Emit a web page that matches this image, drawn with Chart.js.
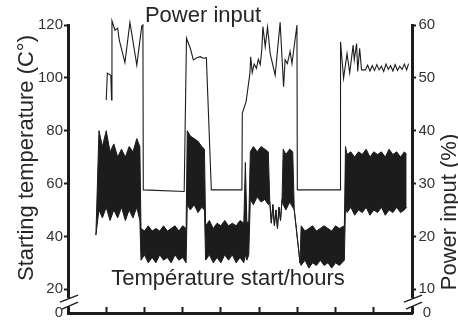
<!DOCTYPE html>
<html>
<head>
<meta charset="utf-8">
<script src="https://cdn.jsdelivr.net/npm/chart.js@4.4.1/dist/chart.umd.min.js"></script>
<style>
  body { margin: 0; background: #fff; }
  canvas { display: block; }
</style>
</head>
<body>
<canvas id="grafico" width="458" height="325"></canvas>
<script>
// Température start/hours (axe gauche) : enveloppe haute / basse du signal
const tempHours = [0.73, 0.81, 0.9, 1.0, 1.1, 1.2, 1.3, 1.4, 1.5, 1.6, 1.7, 1.8, 1.88,
  1.91, 2.0, 2.1, 2.2, 2.3, 2.4, 2.5, 2.6, 2.7, 2.8, 2.9, 3.0, 3.09,
  3.12, 3.2, 3.3, 3.4, 3.5, 3.57,
  3.6, 3.7, 3.8, 3.9, 4.0, 4.1, 4.2, 4.3, 4.4, 4.5, 4.6, 4.64, 4.68, 4.73,
  4.77, 4.85, 4.95, 5.05, 5.15, 5.24,
  5.28, 5.32, 5.36, 5.40, 5.44, 5.48, 5.52, 5.56, 5.60,
  5.63, 5.7, 5.8, 5.88,
  5.92, 6.07,
  6.1, 6.2, 6.3, 6.4, 6.5, 6.6, 6.7, 6.8, 6.9, 7.0, 7.1, 7.23,
  7.26, 7.3, 7.4, 7.5, 7.6, 7.7, 7.8, 7.9, 8.0, 8.1, 8.2, 8.3, 8.4, 8.5, 8.6, 8.7, 8.8, 8.86];
const tempUpper = [40.5, 80, 74, 80, 72, 75, 70, 73, 70, 74, 72, 77, 74,
  43, 42, 44, 42, 43, 42, 44, 42, 43, 44, 42, 44, 43,
  80, 78, 77, 76, 74, 73,
  44, 46, 43, 45, 44, 46, 44, 45, 44, 46, 45, 68, 45, 46,
  72, 74, 72, 74, 73, 72,
  53, 45, 52, 44, 50, 43, 51, 46, 54,
  73, 71, 73, 72,
  50, 30,
  44, 42, 43, 44, 42, 43, 44, 43, 42, 44, 43, 44,
  74, 71, 72, 70, 72, 71, 73, 70, 72, 71, 72, 70, 73, 71, 72, 70, 72, 71];
const tempLower = [40.5, 50, 47, 51, 46, 50, 47, 51, 46, 50, 47, 51, 46,
  31, 33, 30, 32, 30, 33, 31, 32, 30, 33, 31, 32, 30,
  52, 50, 52, 49, 51, 50,
  31, 33, 30, 32, 30, 33, 31, 33, 30, 32, 30, 33, 31, 33,
  54, 52, 55, 53, 54, 52,
  53, 45, 52, 44, 50, 43, 51, 46, 54,
  52, 50, 53, 51,
  50, 30,
  29, 31, 28, 30, 29, 31, 29, 30, 28, 30, 29, 31,
  52, 49, 51, 48, 50, 49, 51, 48, 50, 49, 51, 48, 50, 49, 51, 49, 50, 51];

// Power input (axe droit, %)
const powerHours = [1.00, 1.03, 1.12, 1.14, 1.15, 1.23, 1.30, 1.34, 1.49, 1.62, 1.80, 1.93, 1.96, 1.97,
  3.04, 3.10, 3.20, 3.28, 3.37, 3.46, 3.54, 3.62, 3.75,
  4.55, 4.56, 4.66, 4.76, 4.78, 4.82, 4.87, 4.93, 4.98, 5.03, 5.07, 5.10, 5.16, 5.22, 5.29, 5.42, 5.55,
  5.64, 5.68, 5.74, 5.81, 5.86, 5.99, 6.00,
  7.12, 7.13, 7.21, 7.30, 7.37, 7.46, 7.49, 7.55, 7.58, 7.63, 7.68, 7.78,
  7.84, 7.90, 7.96, 8.02, 8.08, 8.14, 8.20, 8.26, 8.32, 8.38, 8.44, 8.50, 8.56, 8.62, 8.68, 8.74, 8.80, 8.86, 8.91];
const powerValues = [45.8, 50.9, 50.5, 45.8, 60.8, 59.0, 59.4, 57.2, 52.9, 60.5, 52.4, 59.8, 60.0, 28.8,
  28.5, 57.5, 55.6, 53.4, 53.8, 54.0, 53.7, 53.8, 28.8,
  28.8, 43.3, 45.5, 50.9, 54.0, 51.0, 52.6, 51.8, 53.5, 52.5, 55.3, 59.7, 55.9, 59.6, 54.6, 50.5, 60.5,
  48.3, 53.4, 52.7, 55.0, 52.7, 60.0, 28.8,
  28.8, 56.8, 49.9, 54.6, 50.9, 56.2, 53.4, 56.5, 51.2, 55.6, 51.5, 51.5,
  52.4, 51.3, 52.3, 51.4, 52.5, 51.5, 52.2, 51.2, 52.6, 51.6, 52.3, 51.3, 52.5, 51.4, 52.2, 51.6, 52.6, 51.5, 52.7];

// Graduations
const leftTicks = [0, 20, 40, 60, 80, 100, 120];
const rightTicks = [0, 10, 20, 30, 40, 50, 60];
const hourTicks = [0, 1, 2, 3, 4, 5, 6, 7, 8, 9];
const leftBreak = 11;    // position du "0" sous la coupure d'axe
const rightBreak = 5.5;

const noir = '#1c1c1c';
const texte = '#262626';
Chart.defaults.font.family = "'Liberation Sans', Arial, sans-serif";

const pts = (xs, ys) => xs.map((x, i) => ({ x, y: ys[i] }));

// Textes et coupures d'axe
const decor = {
  id: 'decor',
  afterDraw(chart) {
    const { ctx, chartArea: a, scales } = chart;
    ctx.save();
    ctx.fillStyle = texte;
    ctx.font = "22px 'Liberation Sans', Arial, sans-serif";
    ctx.textAlign = 'center';
    ctx.textBaseline = 'alphabetic';
    ctx.fillText('Power input', 203, 22);
    ctx.fillText('Température start/hours', 228, 285);

    ctx.save();
    ctx.translate(33, 158);
    ctx.rotate(-Math.PI / 2);
    ctx.fillText('Starting temperature (C°)', 0, 0);
    ctx.restore();
    ctx.save();
    ctx.translate(456, 212);
    ctx.rotate(-Math.PI / 2);
    ctx.fillText('Power input (%)', 0, 0);
    ctx.restore();

    // coupures "//"
    const yc = (scales.y.getPixelForValue(20) + a.bottom) / 2;
    [a.left, a.right].forEach(x => {
      ctx.fillStyle = '#fff';
      ctx.fillRect(x - 3, yc - 3, 6, 8);
      ctx.strokeStyle = noir;
      ctx.lineWidth = 1.3;
      ctx.beginPath();
      ctx.moveTo(x - 8, yc + 1); ctx.lineTo(x + 10, yc - 6);
      ctx.moveTo(x - 6, yc + 8); ctx.lineTo(x + 10, yc + 1);
      ctx.stroke();
    });
    ctx.restore();
  }
};

const eixoY = (largura, pos, lista, base, padding) => ({
  type: 'linear',
  position: pos,
  min: base,
  max: lista[lista.length - 1],
  afterBuildTicks: s => { s.ticks = lista.map(v => ({ value: v === 0 ? base : v })); },
  afterFit: s => { s.width = largura; },
  border: { color: noir, width: 3 },
  grid: {
    drawOnChartArea: false,
    tickLength: 4,
    tickWidth: 2,
    tickColor: c => (c.tick && c.tick.value === base) ? 'rgba(0,0,0,0)' : noir
  },
  ticks: {
    color: '#333',
    padding: padding,
    crossAlign: pos === 'right' ? 'center' : 'near',
    font: { size: 15 },
    callback: v => v === base ? '0' : v
  }
});

new Chart(document.getElementById('grafico'), {
  type: 'line',
  data: {
    datasets: [
      {
        label: 'Température start/hours (max)',
        data: pts(tempHours, tempUpper),
        yAxisID: 'y',
        borderColor: noir,
        borderWidth: 1,
        backgroundColor: noir,
        fill: '+1',
        pointRadius: 0,
        tension: 0
      },
      {
        label: 'Température start/hours (min)',
        data: pts(tempHours, tempLower),
        yAxisID: 'y',
        borderColor: noir,
        borderWidth: 1,
        fill: false,
        pointRadius: 0,
        tension: 0
      },
      {
        label: 'Power input',
        data: pts(powerHours, powerValues),
        yAxisID: 'y2',
        borderColor: noir,
        borderWidth: 1.1,
        fill: false,
        pointRadius: 0,
        tension: 0,
        clip: false
      }
    ]
  },
  options: {
    responsive: false,
    devicePixelRatio: 1,
    animation: false,
    layout: { padding: { top: 25, left: 0, right: 0, bottom: 0 } },
    plugins: { legend: { display: false }, tooltip: { enabled: false } },
    scales: {
      x: {
        type: 'linear',
        min: 0,
        max: 9,
        afterBuildTicks: s => { s.ticks = hourTicks.map(v => ({ value: v })); },
        afterFit: s => { s.height = 12; },
        border: { color: noir, width: 3 },
        grid: {
          drawOnChartArea: false,
          tickLength: -6,
          tickWidth: 2,
          tickColor: c => (c.tick && (c.tick.value === 0 || c.tick.value === 9)) ? 'rgba(0,0,0,0)' : noir
        },
        ticks: { display: false }
      },
      y: eixoY(68, 'left', leftTicks, leftBreak, 1),
      y2: eixoY(46, 'right', rightTicks, rightBreak, 2.5)
    }
  },
  plugins: [decor]
});
</script>
</body>
</html>
